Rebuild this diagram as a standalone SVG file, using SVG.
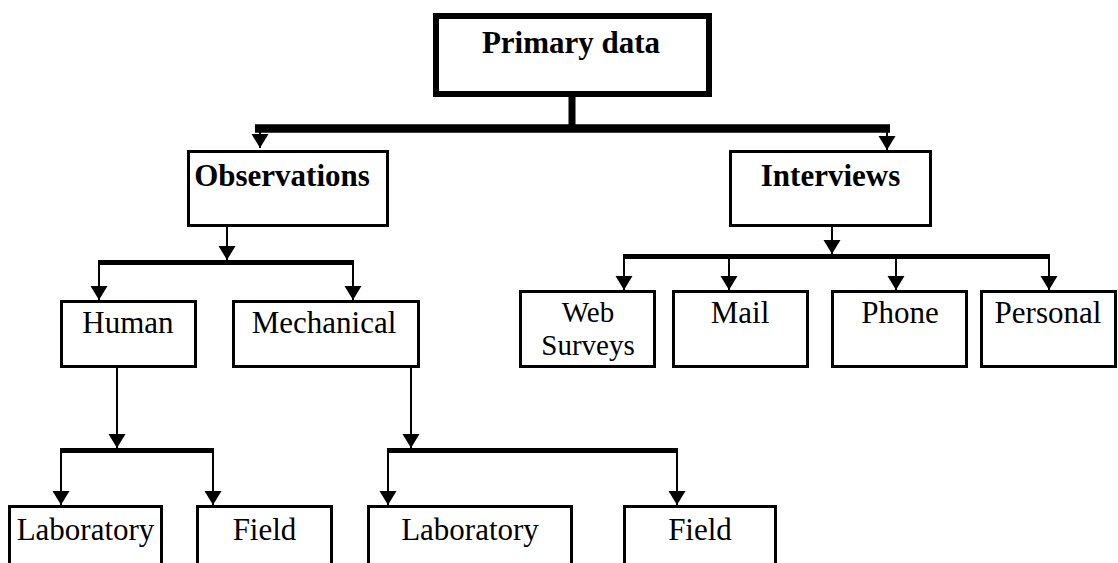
<svg xmlns="http://www.w3.org/2000/svg" width="1118" height="563" viewBox="0 0 1118 563">
<style>
.box{fill:#fff;stroke:#000;stroke-width:3}
.thick{fill:#fff;stroke:#000;stroke-width:6}
.t{font-family:"Liberation Serif","Times New Roman",serif;font-size:31px;fill:#000;text-anchor:middle}
.s{font-size:29px}
.b{font-weight:bold}
.ln{stroke:#000;stroke-width:2;fill:none}
.bar{stroke:#000;stroke-width:5;fill:none}
</style>
<defs>
<marker id="ah" markerUnits="userSpaceOnUse" markerWidth="15" markerHeight="18" refX="14" refY="9" orient="auto" viewBox="0 0 15 18">
<path d="M0,0.5 L14,9 L0,17.5 z" fill="#000"/>
</marker>
</defs>
<rect width="1118" height="563" fill="#fff"/>
<g id="connectors">
<line x1="572" y1="97" x2="572" y2="128" stroke="#000" stroke-width="7"/>
<line x1="255" y1="128.5" x2="890" y2="128.5" stroke="#000" stroke-width="8.5"/>
<line class="ln" x1="260" y1="132" x2="260" y2="148" marker-end="url(#ah)"/>
<line class="ln" x1="887" y1="132" x2="887" y2="150" marker-end="url(#ah)"/>
<line class="ln" x1="227" y1="227" x2="227" y2="260" marker-end="url(#ah)"/>
<line class="bar" x1="98" y1="262.5" x2="354" y2="262.5"/>
<line class="ln" x1="99" y1="262" x2="99" y2="300" marker-end="url(#ah)"/>
<line class="ln" x1="353" y1="262" x2="353" y2="300" marker-end="url(#ah)"/>
<line class="ln" x1="832" y1="227" x2="832" y2="254" marker-end="url(#ah)"/>
<line class="bar" x1="623" y1="256.5" x2="1050" y2="256.5"/>
<line class="ln" x1="624" y1="256" x2="624" y2="290" marker-end="url(#ah)"/>
<line class="ln" x1="729" y1="256" x2="729" y2="290" marker-end="url(#ah)"/>
<line class="ln" x1="896" y1="256" x2="896" y2="290" marker-end="url(#ah)"/>
<line class="ln" x1="1049" y1="256" x2="1049" y2="290" marker-end="url(#ah)"/>
<line class="ln" x1="117" y1="368" x2="117" y2="448" marker-end="url(#ah)"/>
<line class="bar" x1="60" y1="450.5" x2="214" y2="450.5"/>
<line class="ln" x1="61" y1="450" x2="61" y2="505" marker-end="url(#ah)"/>
<line class="ln" x1="213" y1="450" x2="213" y2="505" marker-end="url(#ah)"/>
<line class="ln" x1="411" y1="368" x2="411" y2="448" marker-end="url(#ah)"/>
<line class="bar" x1="387" y1="450.5" x2="678" y2="450.5"/>
<line class="ln" x1="388" y1="450" x2="388" y2="505" marker-end="url(#ah)"/>
<line class="ln" x1="677" y1="450" x2="677" y2="505" marker-end="url(#ah)"/>
</g>
<g id="primary">
<rect class="thick" x="436" y="16" width="273" height="78"/>
<text class="t b" x="571" y="53">Primary data</text>
</g>
<g id="observations">
<rect class="box" x="188.5" y="151.5" width="199" height="74"/>
<text class="t b" x="282" y="186">Observations</text>
</g>
<g id="interviews">
<rect class="box" x="730.5" y="151.5" width="200" height="74"/>
<text class="t b" x="830.5" y="186">Interviews</text>
</g>
<g id="human">
<rect class="box" x="61.5" y="301.5" width="134" height="65"/>
<text class="t" x="128" y="333">Human</text>
</g>
<g id="mechanical">
<rect class="box" x="233.5" y="301.5" width="185" height="65"/>
<text class="t" x="324" y="333">Mechanical</text>
</g>
<g id="web">
<rect class="box" x="520.5" y="291.5" width="134" height="75"/>
<text class="t s" x="588" y="322">Web</text>
<text class="t s" x="588" y="355">Surveys</text>
</g>
<g id="mail">
<rect class="box" x="673.5" y="291.5" width="134" height="75"/>
<text class="t" x="740" y="323">Mail</text>
</g>
<g id="phone">
<rect class="box" x="832.5" y="291.5" width="134" height="75"/>
<text class="t" x="900" y="323">Phone</text>
</g>
<g id="personal">
<rect class="box" x="981.5" y="291.5" width="134" height="75"/>
<text class="t" x="1048" y="323">Personal</text>
</g>
<g id="lab1">
<rect class="box" x="9.5" y="506.5" width="152" height="80"/>
<text class="t" x="85.5" y="540">Laboratory</text>
</g>
<g id="field1">
<rect class="box" x="197.5" y="506.5" width="134" height="80"/>
<text class="t" x="264.5" y="540">Field</text>
</g>
<g id="lab2">
<rect class="box" x="368.5" y="506.5" width="203" height="80"/>
<text class="t" x="470" y="540">Laboratory</text>
</g>
<g id="field2">
<rect class="box" x="624.5" y="506.5" width="151" height="80"/>
<text class="t" x="700" y="540">Field</text>
</g>
</svg>
